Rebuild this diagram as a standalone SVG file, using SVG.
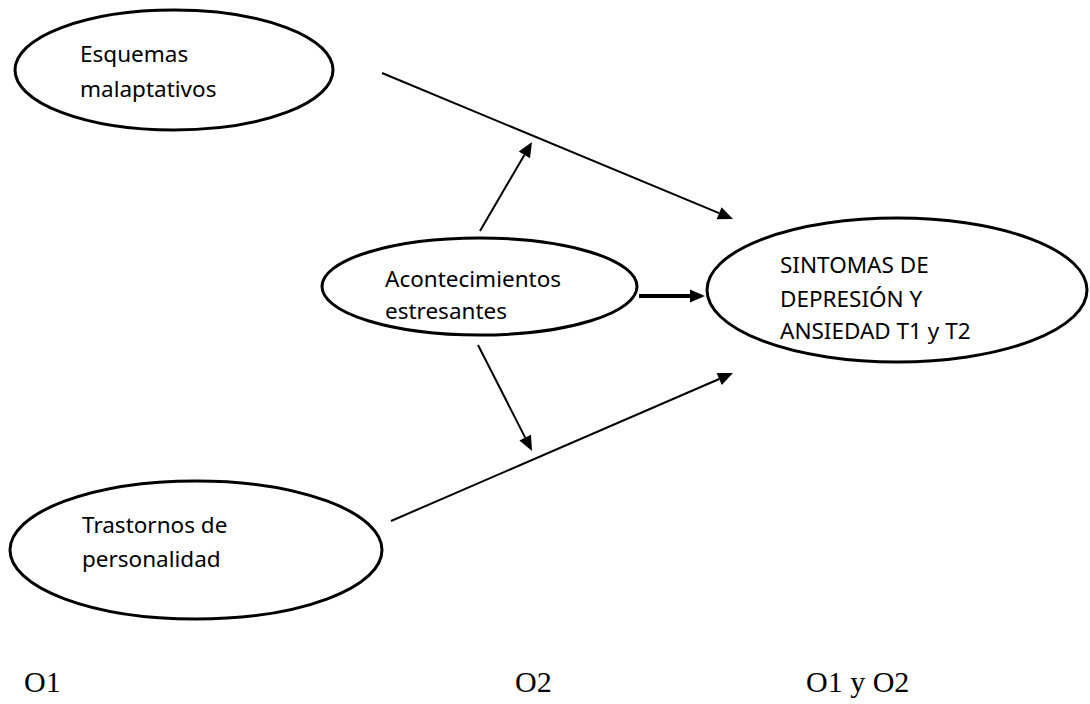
<svg xmlns="http://www.w3.org/2000/svg" width="1090" height="704" viewBox="0 0 1090 704">
<style>
.node ellipse{fill:#fff;stroke:#000;stroke-width:3}
.lbl{font-family:"Noto Sans","Liberation Sans",sans-serif;font-size:22.5px;fill:#000}
.obj{font-family:"Liberation Serif","Times New Roman",serif;font-size:30px;fill:#000}
.conn line{stroke:#000;stroke-width:2}
.conn line.thick{stroke-width:4}
</style>
<defs>
<marker id="ah" markerUnits="userSpaceOnUse" viewBox="0 -7 16 14" refX="0" refY="0" markerWidth="16" markerHeight="14" orient="auto" overflow="visible">
<path d="M0,-6.5 L15,0 L0,6.5 z" fill="#000"/>
</marker>
</defs>
<rect width="1090" height="704" fill="#fff"/>
<g id="connectors" class="conn">
<line x1="382" y1="73" x2="719.1" y2="213.2" marker-end="url(#ah)"/>
<line x1="480" y1="231" x2="524.4" y2="154.9" marker-end="url(#ah)"/>
<line class="thick" x1="639" y1="296" x2="690" y2="296" marker-end="url(#ah)"/>
<line x1="478" y1="345" x2="525.2" y2="437.6" marker-end="url(#ah)"/>
<line x1="391" y1="521" x2="719.2" y2="379" marker-end="url(#ah)"/>
</g>
<g id="esquemas" class="node">
<ellipse cx="174" cy="70" rx="159" ry="60"/>
<text class="lbl" x="80" y="62">Esquemas</text>
<text class="lbl" x="80" y="97">malaptativos</text>
</g>
<g id="acontecimientos" class="node">
<ellipse cx="479.5" cy="286.5" rx="157.5" ry="48.5"/>
<text class="lbl" x="385" y="287">Acontecimientos</text>
<text class="lbl" x="385" y="319">estresantes</text>
</g>
<g id="sintomas" class="node">
<ellipse cx="897" cy="290" rx="190" ry="72"/>
<text class="lbl" x="780" y="273">SINTOMAS DE</text>
<text class="lbl" x="780" y="307">DEPRESIÓN Y</text>
<text class="lbl" x="780" y="339">ANSIEDAD T1 y T2</text>
</g>
<g id="trastornos" class="node">
<ellipse cx="196" cy="550" rx="186" ry="69"/>
<text class="lbl" x="82" y="533">Trastornos de</text>
<text class="lbl" x="82" y="567">personalidad</text>
</g>
<g id="labels">
<text class="obj" x="24" y="692">O1</text>
<text class="obj" x="515" y="692">O2</text>
<text class="obj" x="806" y="692">O1 y O2</text>
</g>
</svg>
